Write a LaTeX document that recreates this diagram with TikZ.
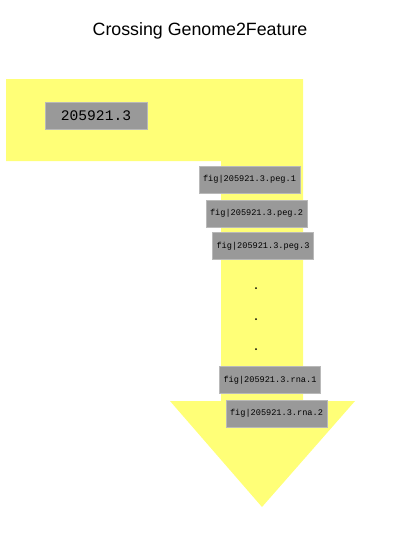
\documentclass[tikz,border=0pt]{standalone}
\usepackage{fontspec}
\setmainfont{Liberation Sans}
\setmonofont{Liberation Mono}
\definecolor{arrowyellow}{RGB}{255,255,119}
\definecolor{boxgray}{RGB}{153,153,153}
\definecolor{boxedge}{RGB}{185,185,185}
\tikzset{
  idbox/.style={fill=boxgray, draw=boxedge, line width=1pt, minimum width=101pt,
    minimum height=27pt, inner sep=0pt, font=\ttfamily\fontsize{8.6}{10}\selectfont},
  gapdot/.style={circle, fill=black, inner sep=0pt, minimum size=2pt}
}
\begin{document}
\begin{tikzpicture}[x=1pt,y=-1pt]
\useasboundingbox (0,0) rectangle (400,533);
\node[font=\fontsize{17.8}{20}\selectfont] (title) at (200,31) {Crossing Genome2Feature};
% the bent arrow from genome to features
\fill[arrowyellow] (6,79) -- (303,79) -- (303,401) -- (355,401) -- (262,507)
  -- (170,401) -- (221,401) -- (221,161) -- (6,161) -- cycle;
\node[idbox, minimum width=102pt, font=\ttfamily\fontsize{14.6}{16}\selectfont] (genome) at (96,115.5) {205921.3};
\node[idbox] (peg1) at (249.5,179.5) {fig|205921.3.peg.1};
\node[idbox] (peg2) at (256.5,213.5) {fig|205921.3.peg.2};
\node[idbox] (peg3) at (263,246) {fig|205921.3.peg.3};
\foreach \y [count=\i] in {288,319,349}
  \node[gapdot] (dot\i) at (256,\y) {};
\node[idbox] (rna1) at (270,380) {fig|205921.3.rna.1};
\node[idbox] (rna2) at (276.5,413.5) {fig|205921.3.rna.2};
\end{tikzpicture}
\end{document}
